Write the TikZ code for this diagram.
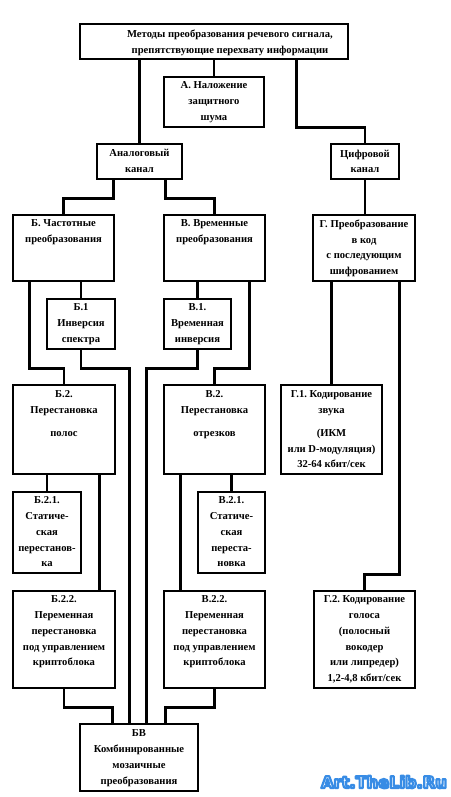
\documentclass[tikz,border=0pt]{standalone}
\usepackage{fontspec}
\setmainfont{Liberation Serif}
\newfontfamily\wmfont{DejaVu Sans}[BoldFont={DejaVu Sans Bold}]
\newcommand\outlinetext[1]{\special{pdf:literal direct 0.22 0.55 0.90 RG 2.2 w 1 j 2 Tr}#1\special{pdf:literal direct 0 Tr}}
\frenchspacing
\begin{document}
\begin{tikzpicture}[x=1pt,y=-1pt,
  box/.style={draw=black,line width=2.6pt,rectangle,inner sep=0pt},
  lbl/.style={font=\fontsize{10.6}{15.8}\selectfont\bfseries\frenchspacing,align=center,inner sep=0pt,anchor=north},
  conn/.style={draw=black,line width=2.6pt}]
\useasboundingbox[fill=white] (0,0) rectangle (450,797);
% boxes: \bx{name}{x1}{x2}{y1}{y2}
\newcommand\bx[5]{\node[box,minimum width=#3-#2,minimum height=#5-#4] (#1) at ({(#2+#3)/2},{(#4+#5)/2}) {};}
\bx{top}{80}{348}{24}{59}
\bx{A}{164}{264}{77}{127}
\bx{An}{97}{182}{144}{179}
\bx{Ts}{331}{399}{144}{179}
\bx{B}{13}{114}{215}{281}
\bx{V}{164}{265}{215}{281}
\bx{G}{313}{415}{215}{281}
\bx{B1}{47}{115}{299}{349}
\bx{V1}{164}{231}{299}{349}
\bx{B2}{13}{115}{385}{474}
\bx{V2}{164}{265}{385}{474}
\bx{G1}{281}{382}{385}{474}
\bx{B21}{13}{81}{492}{573}
\bx{V21}{198}{265}{492}{573}
\bx{B22}{13}{115}{591}{688}
\bx{V22}{164}{265}{591}{688}
\bx{G2}{314}{415}{591}{688}
\bx{BV}{80}{198}{724}{791}
% texts
\node[lbl] (top-t) at (230,29.5) {Методы преобразования речевого сигнала,\\препятствующие перехвату информации};
\node[lbl] (A-t) at (214,81.5) {А. Наложение\\защитного\\шума};
\node[lbl] (An-t) at (139.5,149.5) {Аналоговый\\канал};
\node[lbl] (Ts-t) at (365,149.5) {Цифровой\\канал};
\node[lbl] (B-t) at (63.5,219.5) {Б. Частотные\\преобразования};
\node[lbl] (V-t) at (214.5,219.5) {В. Временные\\преобразования};
\node[lbl] (G-t) at (364,219.5) {Г. Преобразование\\в код\\с последующим\\шифрованием};
\node[lbl] (B1-t) at (81,303.5) {Б.1\\Инверсия\\спектра};
\node[lbl] (V1-t) at (197.5,303.5) {В.1.\\Временная\\инверсия};
\node[lbl] (B2-t) at (64,390.5) {Б.2.\\Перестановка\\[7pt]полос};
\node[lbl] (V2-t) at (214.5,390.5) {В.2.\\Перестановка\\[7pt]отрезков};
\node[lbl] (G1-t) at (331.5,390.5) {Г.1. Кодирование\\звука\\[7pt](ИКМ\\или D-модуляция)\\32-64 кбит/сек};
\node[lbl] (B21-t) at (47,496.5) {Б.2.1.\\Статиче-\\ская\\перестанов-\\ка};
\node[lbl] (V21-t) at (231.5,496.5) {В.2.1.\\Статиче-\\ская\\переста-\\новка};
\node[lbl] (B22-t) at (64,595.5) {Б.2.2.\\Переменная\\перестановка\\под управлением\\криптоблока};
\node[lbl] (V22-t) at (214.5,595.5) {В.2.2.\\Переменная\\перестановка\\под управлением\\криптоблока};
\node[lbl] (G2-t) at (364.5,595.5) {Г.2. Кодирование\\голоса\\(полосный\\вокодер\\или липредер)\\1,2-4,8 кбит/сек};
\node[lbl] (BV-t) at (139,729.5) {БВ\\Комбинированные\\мозаичные\\преобразования};
% connectors
\draw[conn] (An.north |- top.south) -- (An.north);
\draw[conn] (A.north |- top.south) -- (A.north);
\draw[conn] ([xshift=218pt]top.south west) -- ++(0,67) -| (Ts.north);
\draw[conn] ([xshift=18pt]An.south west) -- ++(0,18) -| (B.north);
\draw[conn] ([xshift=-18pt]An.south east) -- ++(0,18) -| (V.north);
\draw[conn] (Ts.south) -- (Ts.south |- G.north);
\draw[conn] (B1.north |- B.south) -- (B1.north);
\draw[conn] ([xshift=18pt]B.south west) -- ++(0,86) -| (B2.north);
\draw[conn] (B1.south) -- ++(0,18) -| ([xshift=51pt]BV.north west);
\draw[conn] (V1.north |- V.south) -- (V1.north);
\draw[conn] ([xshift=-17pt]V.south east) -- ++(0,86) -| (V2.north);
\draw[conn] (V1.south) -- ++(0,18) -| ([xshift=68pt]BV.north west);
\draw[conn] (G1.north |- G.south) -- (G1.north);
\draw[conn] ([xshift=-17pt]G.south east) -- ++(0,292) -| (G2.north);
\draw[conn] (B21.north |- B2.south) -- (B21.north);
\draw[conn] ([xshift=-17pt]B2.south east) -- ([xshift=-17pt]B2.south east |- B22.north);
\draw[conn] (V21.north |- V2.south) -- (V21.north);
\draw[conn] ([xshift=18pt]V2.south west) -- ([xshift=18pt]V2.south west |- B22.north);
\draw[conn] (B22.south) -- ++(0,18) -| ([xshift=34pt]BV.north west);
\draw[conn] (V22.south) -- ++(0,18) -| ([xshift=-34pt]BV.north east);
% watermark
\node[inner sep=0pt,text=white,font=\wmfont\bfseries\fontsize{16.2}{17}\selectfont] (wm) at (384,782) {\outlinetext{Art.TheLib.Ru}};
\end{tikzpicture}
\end{document}
